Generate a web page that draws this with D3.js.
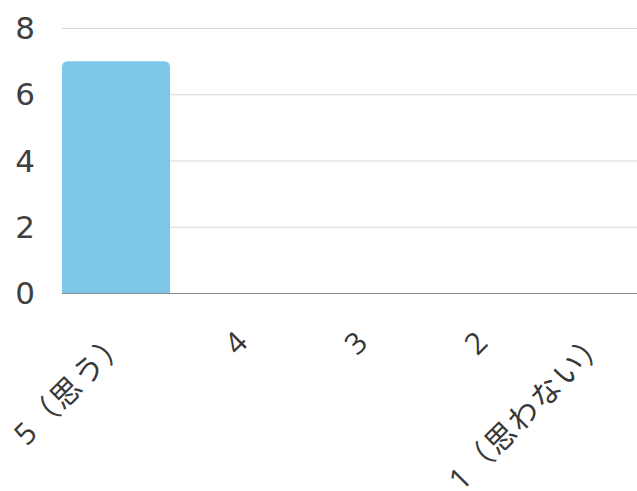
<!DOCTYPE html>
<meta charset="utf-8">
<style>
body{
  margin: 0;
  background: #fff;
}
svg{
  display: block;
  background-color: #fff;
}
text{
  font-family: "Open Sans", "Noto Sans CJK JP", sans-serif;
}
text.ytick{
  font-family: "DejaVu Sans", sans-serif;
}
</style>

<svg width="637" height="491"></svg>
<script src="https://d3js.org/d3.v7.min.js"></script>
<script>

var categories = ["5（思う）", "4", "3", "2", "1（思わない）"];
var counts = [7, 0, 0, 0, 0];
var yTicks = [0, 2, 4, 6, 8];

var svg = d3.select("svg"),
    width = +svg.attr("width"),
    height = +svg.attr("height");

var x = d3.scaleBand()
    .domain(categories)
    .range([56, 656])
    .paddingInner(0.1)
    .paddingOuter(0.05);

var y = d3.scaleLinear()
    .domain([0, 8])
    .range([293, 28]);

// grid lines
svg.append("g")
  .selectAll("line")
  .data(yTicks)
  .enter().append("line")
    .attr("x1", 62)
    .attr("x2", width)
    .attr("y1", function(d) { return y(d) + 0.5; })
    .attr("y2", function(d) { return y(d) + 0.5; })
    .attr("stroke", function(d) { return d === 0 ? "#8a8a8a" : "#d8d8d8"; })
    .attr("stroke-width", function(d) { return d === 0 ? 1.2 : 1; });

// y tick labels
svg.append("g")
  .selectAll("text")
  .data(yTicks)
  .enter().append("text")
    .attr("class", "ytick")
    .attr("x", 35)
    .attr("y", function(d) { return y(d); })
    .attr("dy", "0.36em")
    .attr("text-anchor", "end")
    .attr("font-size", 31)
    .attr("fill", "#404040")
    .text(function(d) { return d; });

// bars, top corners rounded
var r = 6;
svg.append("g")
  .selectAll("path")
  .data(categories.map(function(c, i) { return {cat: c, v: counts[i]}; }).filter(function(d) { return d.v > 0; }))
  .enter().append("path")
    .attr("fill", "#7cc7ea")
    .attr("d", function(d) {
      var x0 = x(d.cat), x1 = x0 + x.bandwidth(),
          y0 = y(0), y1 = y(d.v);
      return "M" + x0 + "," + y0 +
             "V" + (y1 + r) +
             "Q" + x0 + "," + y1 + " " + (x0 + r) + "," + y1 +
             "H" + (x1 - r) +
             "Q" + x1 + "," + y1 + " " + x1 + "," + (y1 + r) +
             "V" + y0 + "Z";
    });

// x labels rotated
svg.append("g")
  .selectAll("text")
  .data(categories)
  .enter().append("text")
    .attr("transform", function(d) {
      return "translate(" + (x(d) + x.bandwidth() / 2) + ",328) rotate(-45)";
    })
    .attr("text-anchor", "end")
    .attr("dy", "0.7em")
    .attr("font-size", 30)
    .attr("letter-spacing", 2)
    .attr("fill", "#383838")
    .text(function(d) { return d; });

</script>
